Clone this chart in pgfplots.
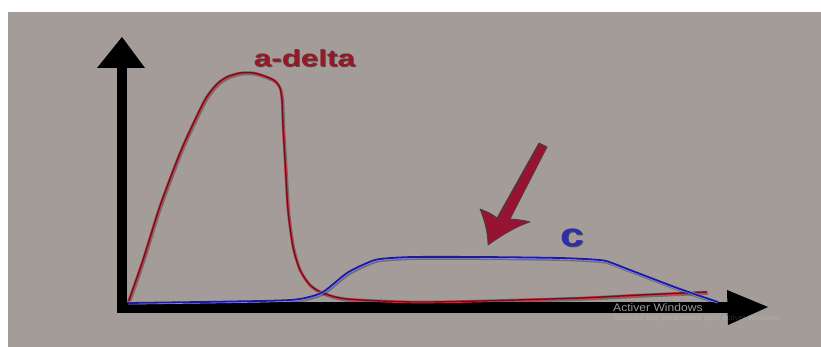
\documentclass[border=0pt]{standalone}
\usepackage{pgfplots}
\pgfplotsset{compat=1.18}
\usepackage{pgfplotstable}
\usepackage{fontspec}
\setmainfont{Liberation Sans}
\definecolor{bg}{RGB}{164,156,153}
\definecolor{redcore}{RGB}{115,15,28}
\definecolor{redhalo}{RGB}{205,60,75}
\definecolor{bluecore}{RGB}{28,28,150}
\definecolor{bluehalo}{RGB}{150,150,240}
\definecolor{arrowred}{RGB}{150,20,50}
\definecolor{labred}{RGB}{150,25,40}
\definecolor{labblue}{RGB}{45,45,175}

\pgfplotstableread{
x y
6 3
21 46
38 100
58 153
72 184
84 208
95 222
105 229
118 233
132 233
145 229
153 225
158 218
160 206
161 181
163 146
166 96
171 59
178 36
188 21
201 13
225 7
291 4
358 5
458 8
518 11
585 14
}\adelta

\pgfplotstableread{
x y
6 3
78 4
138 5
168 6
183 8
201 14
225 33
245 43
258 47
291 49
358 49
438 48
478 46
490 43
508 36
558 17
596 4
}\cfiber

\begin{document}
\begin{tikzpicture}
\begin{axis}[scale only axis, width=821bp, height=347bp,
  xmin=-122, xmax=699, ymin=-41, ymax=306, hide axis, clip=false]
% background
\fill[white] (axis cs:-122,-41) rectangle (axis cs:699,306);
\fill[bg] (axis cs:-114,-41) rectangle (axis cs:699,294);
% axes arrows
\fill[black] (axis cs:-5.5,-7) rectangle (axis cs:5.3,239);
\fill[black] (axis cs:-25,238) -- (axis cs:0,269) -- (axis cs:23,238) -- cycle;
\fill[black] (axis cs:-5.5,-7) rectangle (axis cs:606,4);
\fill[black] (axis cs:605,16) -- (axis cs:646,-1) -- (axis cs:606,-19) -- cycle;
% watermark
\node[anchor=base west, text=black!40!white, inner sep=0pt] at (axis cs:491,-5.5)
  {\scalebox{1.1}[1]{\fontsize{11bp}{13bp}\selectfont Activer Windows}};
\node[anchor=base west, text=white, opacity=0.15, inner sep=0pt] at (axis cs:491,-14)
  {\fontsize{8bp}{10bp}\selectfont Accédez aux paramètres pour activer Windows.};
% curves: shadow, halo, core
\addplot[black, opacity=0.3, line width=2.5bp, smooth, tension=0.45] table[x expr=\thisrow{x}+1, y expr=\thisrow{y}-1.5] {\adelta};
\addplot[redhalo, line width=2.6bp, smooth, tension=0.45] table {\adelta};
\addplot[redcore, line width=1.4bp, smooth, tension=0.45] table {\adelta};
\addplot[black, opacity=0.3, line width=3bp, smooth, tension=0.45] table[x expr=\thisrow{x}+1, y expr=\thisrow{y}-1.5] {\cfiber};
\addplot[bluehalo, line width=3bp, smooth, tension=0.45] table {\cfiber};
\addplot[bluecore, line width=1.8bp, smooth, tension=0.45] table {\cfiber};
% annotation arrow
\filldraw[fill=arrowred, draw=black!75, line width=0.8bp, line join=round]
  (axis cs:417,163) -- (axis cs:375,88) .. controls (axis cs:368,93) .. (axis cs:358,97)
  .. controls (axis cs:363,85) and (axis cs:366,72) .. (axis cs:366,61)
  .. controls (axis cs:380,71) and (axis cs:395,80) .. (axis cs:408,84)
  .. controls (axis cs:400,86) .. (axis cs:388,87) -- (axis cs:425,159) -- cycle;
% labels
\node[anchor=base, inner sep=0pt, text=black!70] at (axis cs:183.5,238)
  {\scalebox{1.35}[1]{\fontsize{23.3bp}{28bp}\selectfont\bfseries a-delta}};
\node[anchor=base, inner sep=0pt, text=labred] at (axis cs:182.5,239)
  {\scalebox{1.35}[1]{\fontsize{23.3bp}{28bp}\selectfont\bfseries a-delta}};
\node[anchor=base, inner sep=0pt, text=black!70] at (axis cs:451,58)
  {\scalebox{1.3}[1]{\fontsize{32.8bp}{36bp}\selectfont\bfseries c}};
\node[anchor=base, inner sep=0pt, text=labblue] at (axis cs:450,59)
  {\scalebox{1.3}[1]{\fontsize{32.8bp}{36bp}\selectfont\bfseries c}};
\end{axis}
\end{tikzpicture}
\end{document}
